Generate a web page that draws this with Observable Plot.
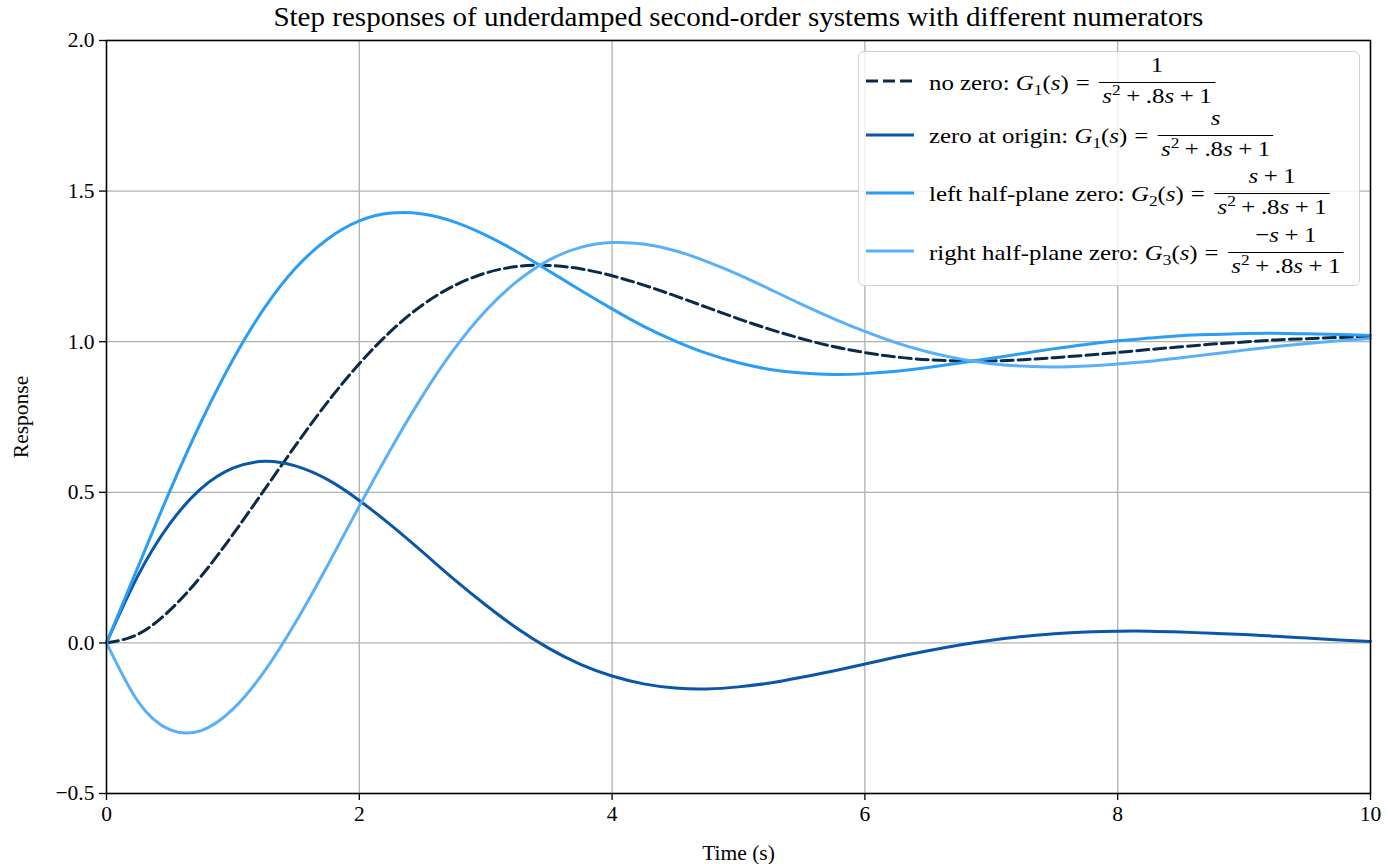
<!DOCTYPE html>
<html>
<head>
<meta charset="utf-8">
<script src="https://cdn.jsdelivr.net/npm/d3@7"></script>
<script src="https://cdn.jsdelivr.net/npm/@observablehq/plot@0.6"></script>
<style>
  html, body { margin: 0; padding: 0; background: #fff; }
  #wrap { position: relative; width: 1388px; height: 864px; font-family: 'Liberation Serif', serif; color: #000; }
  #title { position: absolute; left: 106px; width: 1264px; top: 1px; text-align: center; font-size: 28px; line-height: 32px; white-space: nowrap; }
  #title span { display: inline-block; transform-origin: center; }
  #legend { position: absolute; left: 858px; top: 51px; width: 502px; height: 235px; border: 1.3px solid #cfcfcf; border-radius: 6px; background: rgba(255,255,255,0.8); box-sizing: border-box; font-size: 21.5px; }
  .sample { position: absolute; left: 7px; width: 48px; height: 6px; line-height: 0; }
  .sample svg { display: block; }
  .row { position: absolute; left: 70px; line-height: 30px; white-space: nowrap; transform-origin: left center; }
  .frac { display: inline-block; vertical-align: -13px; text-align: center; margin-left: 2px; }
  .num { display: block; line-height: 26px; padding: 0 3px 4px; border-bottom: 1.3px solid #000; }
  .den { display: block; line-height: 26px; padding: 0 3px; }
  .op-eq { margin: 0 6px; }
  .op-plus { margin: 0 4.8px; }
  .bl { display: inline-block; width: 0; height: 0; }
  sub, sup { font-size: 15px; line-height: 0; }
  i { font-style: italic; }
</style>
</head>
<body>
<div id="wrap"></div>
<script>
// Time samples (s)
const times = [0,0.25,0.5,0.75,1,1.25,1.5,1.75,2,2.25,2.5,2.75,3,3.25,3.5,3.75,4,4.25,4.5,4.75,5,5.25,5.5,5.75,6,6.25,6.5,6.75,7,7.25,7.5,7.75,8,8.25,8.5,8.75,9,9.25,9.5,9.75,10];
// no zero
const noZero = [0.000,0.029,0.108,0.222,0.360,0.509,0.658,0.800,0.927,1.035,1.122,1.186,1.228,1.250,1.253,1.242,1.219,1.188,1.152,1.114,1.076,1.041,1.010,0.984,0.964,0.949,0.940,0.936,0.936,0.940,0.947,0.955,0.964,0.974,0.983,0.992,0.999,1.006,1.010,1.014,1.016];
// zero at origin
const zeroOrigin = [0.000,0.224,0.395,0.513,0.580,0.603,0.587,0.542,0.473,0.391,0.302,0.211,0.126,0.048,-0.018,-0.071,-0.110,-0.136,-0.150,-0.153,-0.146,-0.133,-0.114,-0.093,-0.070,-0.047,-0.026,-0.007,0.009,0.021,0.030,0.036,0.039,0.039,0.036,0.032,0.028,0.022,0.016,0.010,0.005];
// left half-plane zero
const lhpZero = [0.000,0.253,0.503,0.735,0.940,1.112,1.246,1.341,1.401,1.427,1.424,1.398,1.354,1.298,1.235,1.171,1.109,1.051,1.002,0.961,0.930,0.908,0.896,0.891,0.894,0.902,0.914,0.929,0.945,0.961,0.977,0.991,1.003,1.012,1.020,1.024,1.027,1.028,1.026,1.024,1.021];
// right half-plane zero
const rhpZero = [0.000,-0.195,-0.288,-0.291,-0.220,-0.094,0.071,0.258,0.454,0.644,0.820,0.975,1.103,1.201,1.271,1.313,1.329,1.324,1.302,1.266,1.223,1.174,1.124,1.077,1.034,0.996,0.966,0.943,0.927,0.919,0.916,0.919,0.926,0.935,0.947,0.959,0.972,0.984,0.994,1.003,1.011];

const xTicks = [0,2,4,6,8,10];
const yTicks = [-0.5,0,0.5,1,1.5,2];

const seriesNames = ["no zero","zero at origin","left half-plane zero","right half-plane zero"];
const seriesColors = ["#0b2a4a","#0a56a8","#2a9df4","#5ab0f8"];
const seriesValues = [noZero, zeroOrigin, lhpZero, rhpZero];

const lineMarks = seriesValues.map((vals, i) =>
  Plot.line(times.map((t, j) => ({t, v: vals[j]})), {
    x: "t", y: "v",
    stroke: seriesColors[i],
    strokeWidth: 3,
    curve: "natural",
    strokeDasharray: i === 0 ? "12,5" : null
  })
);

const chart = Plot.plot({
  width: 1388,
  height: 864,
  marginLeft: 106,
  marginRight: 18,
  marginTop: 40,
  marginBottom: 71,
  style: { fontFamily: "'Liberation Serif', serif", fontSize: "21px", color: "#000", background: "transparent", overflow: "visible" },
  x: { domain: [0, 10] },
  y: { domain: [-0.5, 2] },
  marks: [
    Plot.gridX(xTicks, { stroke: "#b0b0b0", strokeOpacity: 1, strokeWidth: 1.3 }),
    Plot.gridY(yTicks, { stroke: "#b0b0b0", strokeOpacity: 1, strokeWidth: 1.3 }),
    ...lineMarks,
    Plot.frame({ stroke: "#000", strokeWidth: 1.5 }),
    Plot.axisX(xTicks, { tickSize: 7, tickPadding: 5, tickFormat: d3.format("d"), stroke: "#000", strokeWidth: 1.3, fontSize: 21.5, label: "Time (s)", labelAnchor: "center", labelArrow: "none", labelOffset: 66 }),
    Plot.axisY(yTicks, { tickSize: 7, tickPadding: 5, tickFormat: d3.format(".1f"), stroke: "#000", strokeWidth: 1.3, fontSize: 21.5, label: "Response", labelAnchor: "center", labelArrow: "none", labelOffset: 94 })
  ]
});
chart.style.position = "absolute";
chart.style.left = "0px";
chart.style.top = "0px";

const wrap = document.getElementById("wrap");
wrap.appendChild(chart);

// Title (widened slightly toward the reference's Computer Modern width, 930px)
const title = document.createElement("div");
title.id = "title";
const titleSpan = document.createElement("span");
titleSpan.textContent = "Step responses of underdamped second-order systems with different numerators";
title.appendChild(titleSpan);
wrap.appendChild(title);
{
  const w = titleSpan.getBoundingClientRect().width;
  if (w > 0) titleSpan.style.transform = `scaleX(${(930 / w).toFixed(4)})`;
}

// Legend
const plus = '<span class="op-plus">+</span>';
const eq = '<span class="op-eq">=</span>';
const den = `<i>s</i><sup>2</sup>${plus}.8<i>s</i>${plus}1`;
const legendRows = [
  { text: `no zero: <i>G</i><sub>1</sub>(<i>s</i>)${eq}`, num: '1' },
  { text: `zero at origin: <i>G</i><sub>1</sub>(<i>s</i>)${eq}`, num: '<i>s</i>' },
  { text: `left half-plane zero: <i>G</i><sub>2</sub>(<i>s</i>)${eq}`, num: `<i>s</i>${plus}1` },
  { text: `right half-plane zero: <i>G</i><sub>3</sub>(<i>s</i>)${eq}`, num: `−<i>s</i>${plus}1` }
];
const legend = document.createElement("div");
legend.id = "legend";
wrap.appendChild(legend);
const legendTop = 51;
const rowBaselines = [90, 143.3, 201.6, 260]; // page y of each entry's text baseline
const rowEls = [];
legendRows.forEach((r, i) => {
  const dash = i === 0 ? 'stroke-dasharray="12,5"' : '';
  const s = document.createElement("div");
  s.className = "sample";
  s.innerHTML = `<svg width="48" height="6"><line x1="0" x2="48" y1="3" y2="3" stroke="${seriesColors[i]}" stroke-width="3.2" ${dash}/></svg>`;
  s.style.top = (rowBaselines[i] - 8.3 - 3 - legendTop - 1.3) + "px";
  legend.appendChild(s);

  const row = document.createElement("div");
  row.className = "row";
  row.style.top = "0px";
  row.innerHTML = `<span class="lbl">${r.text}</span><span class="frac"><span class="num">${r.num}</span><span class="den">${den}</span></span><span class="bl"></span>`;
  legend.appendChild(row);
  const rowTop = row.getBoundingClientRect().top;
  const bl = row.querySelector(".bl").getBoundingClientRect().top;
  row.style.top = (rowBaselines[i] - legendTop - 1.3 - (bl - rowTop)) + "px";
  rowEls.push(row);
});
{
  const last = rowEls[3];
  const w = last.querySelector(".frac").getBoundingClientRect().right - last.getBoundingClientRect().left;
  if (w > 0) {
    const k = (415 / w).toFixed(4);
    rowEls.forEach(r => r.style.transform = `scaleX(${k})`);
  }
}
</script>
</body>
</html>
